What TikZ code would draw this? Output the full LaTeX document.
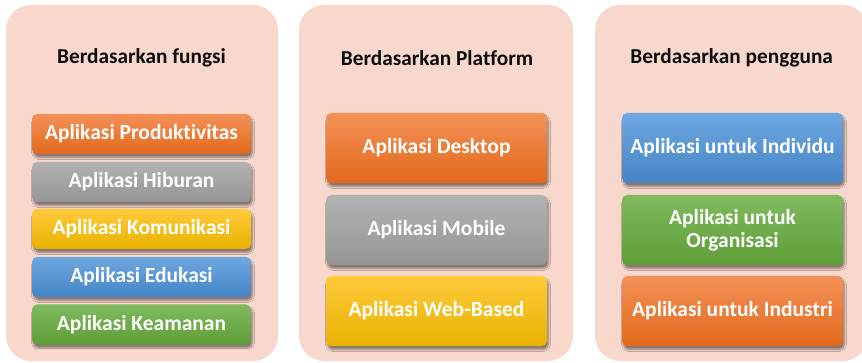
\documentclass[tikz,border=0pt]{standalone}
\usepackage{fontspec}
\setmainfont{Carlito}[Ligatures={NoCommon,NoContextual}]
\usetikzlibrary{shadows.blur}
\definecolor{panelc}{HTML}{F8D8CC}
\definecolor{titlec}{HTML}{0D0D0D}
\definecolor{orT}{HTML}{F39157}\definecolor{orB}{HTML}{E3691C}
\definecolor{grT}{HTML}{B3B3B3}\definecolor{grB}{HTML}{959595}
\definecolor{goT}{HTML}{FFCA3C}\definecolor{goB}{HTML}{E8B200}
\definecolor{blT}{HTML}{6EA8E0}\definecolor{blB}{HTML}{4585C6}
\definecolor{gnT}{HTML}{80BA5E}\definecolor{gnB}{HTML}{5E9D37}
\tikzset{
  panel/.style={fill=panelc, rounded corners=25pt, inner sep=0pt},
  ptitle/.style={text=titlec, font=\bfseries\fontsize{21.3}{24}\selectfont},
  appbox/.style={rounded corners=5pt, inner sep=0pt, text=white, align=center,
     font=\bfseries\fontsize{21.5}{23}\selectfont,
     blur shadow={shadow xshift=1.5pt, shadow yshift=-3.5pt, shadow blur steps=8, shadow blur extra rounding=2pt, shadow opacity=45}},
  smallbox/.style={appbox, minimum width=219pt, minimum height=40pt},
  bigbox/.style={appbox, minimum width=221pt, minimum height=70pt},
  orange/.style={top color=orT, bottom color=orB},
  gray/.style={top color=grT, bottom color=grB},
  gold/.style={top color=goT, bottom color=goB},
  blue/.style={top color=blT, bottom color=blB},
  green/.style={top color=gnT, bottom color=gnB},
}
\begin{document}
\begin{tikzpicture}[x=1pt,y=-1pt]
\useasboundingbox (0,0) rectangle (862,363);
\clip (0,0) rectangle (862,363);
% panels
\node[panel, minimum width=272pt, minimum height=356pt] (p1) at (142,183) {};
\node[panel, minimum width=274pt, minimum height=356pt] (p2) at (436,183) {};
\node[panel, minimum width=273pt, minimum height=356pt] (p3) at (731.5,183) {};
% titles
\node[ptitle] (t1) at (141.5,58) {Berdasarkan fungsi};
\node[ptitle] (t2) at (437,58) {Berdasarkan Platform};
\node[ptitle] (t3) at (731.7,58) {Berdasarkan pengguna};
% panel 1
\node[smallbox, orange] (f1) at (141.5,134) {Aplikasi Produktivitas};
\node[smallbox, gray]   (f2) at (141.5,182) {Aplikasi Hiburan};
\node[smallbox, gold]   (f3) at (141.5,229) {Aplikasi Komunikasi};
\node[smallbox, blue]   (f4) at (141.5,277) {Aplikasi Edukasi};
\node[smallbox, green]  (f5) at (141.5,324.5) {Aplikasi Keamanan};
% panel 2
\node[bigbox, orange] (pl1) at (436.5,148) {Aplikasi Desktop};
\node[bigbox, gray]   (pl2) at (436.5,230) {Aplikasi Mobile};
\node[bigbox, gold]   (pl3) at (436.5,311) {Aplikasi Web-Based};
% panel 3
\node[bigbox, blue]   (u1) at (732.5,148) {Aplikasi untuk Individu};
\node[bigbox, green]  (u2) at (732.5,230) {Aplikasi untuk\\Organisasi};
\node[bigbox, orange] (u3) at (732.5,311) {Aplikasi untuk Industri};
\end{tikzpicture}
\end{document}
